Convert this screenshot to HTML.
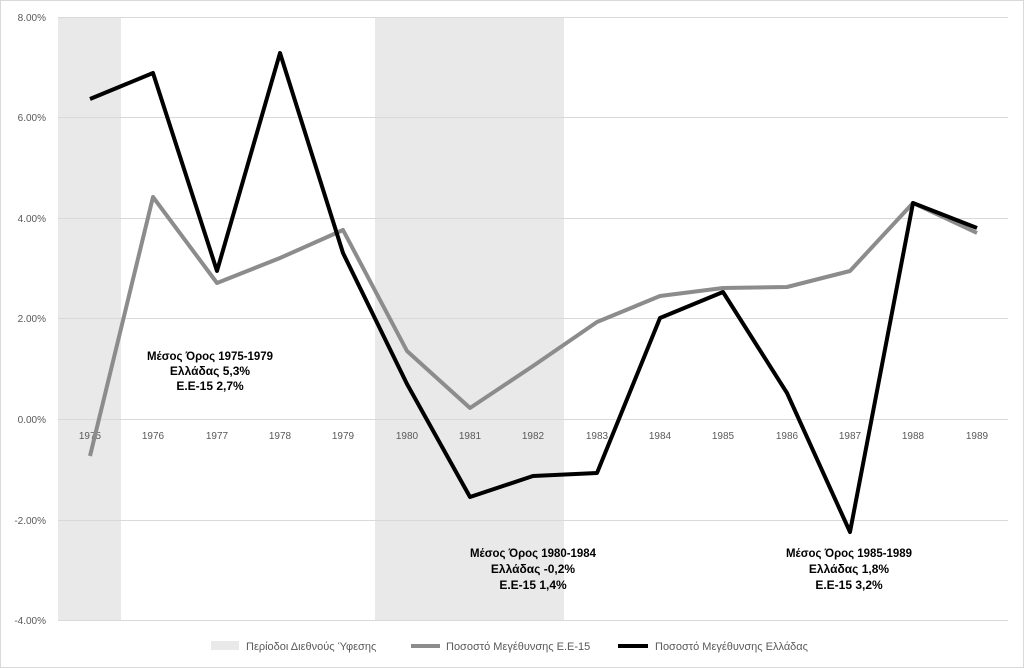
<!DOCTYPE html>
<html><head><meta charset="utf-8"><style>
html,body{margin:0;padding:0;background:#fff;}
svg{display:block;font-family:"Liberation Sans",Arial,sans-serif;}
</style></head><body>
<svg width="1024" height="668" viewBox="0 0 1024 668" xmlns="http://www.w3.org/2000/svg">
<rect x="0.5" y="0.5" width="1023" height="667" fill="#fff" stroke="#d9d9d9"/>
<rect x="58" y="17" width="63" height="603" fill="#e9e9e9"/>
<rect x="375" y="17" width="189" height="603" fill="#e9e9e9"/>
<g stroke="#d9d9d9" stroke-width="1">
<line x1="58" y1="17.5" x2="1008" y2="17.5"/>
<line x1="58" y1="117.5" x2="1008" y2="117.5"/>
<line x1="58" y1="218.5" x2="1008" y2="218.5"/>
<line x1="58" y1="318.5" x2="1008" y2="318.5"/>
<line x1="58" y1="419.5" x2="1008" y2="419.5"/>
<line x1="58" y1="520.5" x2="1008" y2="520.5"/>
<line x1="58" y1="620.5" x2="1008" y2="620.5"/>
</g>
<g font-size="10" fill="#595959" text-anchor="end">
<text x="46" y="21">8.00%</text><text x="46" y="121">6.00%</text><text x="46" y="222">4.00%</text>
<text x="46" y="322">2.00%</text><text x="46" y="423">0.00%</text><text x="46" y="524">-2.00%</text><text x="46" y="624">-4.00%</text>
</g>
<g font-size="10" fill="#595959" text-anchor="middle">
<text x="90" y="439">1975</text><text x="153" y="439">1976</text><text x="217" y="439">1977</text><text x="280" y="439">1978</text><text x="343" y="439">1979</text><text x="407" y="439">1980</text><text x="470" y="439">1981</text><text x="533" y="439">1982</text><text x="597" y="439">1983</text><text x="660" y="439">1984</text><text x="723" y="439">1985</text><text x="787" y="439">1986</text><text x="850" y="439">1987</text><text x="913" y="439">1988</text><text x="977" y="439">1989</text>
</g>
<polyline fill="none" stroke="#8c8c8c" stroke-width="4" stroke-linejoin="round" points="90,456 153,197 217,283 280,258 343,230 407,351 470,408 533,366 597,322 660,296 723,288 787,287 850,271 913,203 977,233"/>
<polyline fill="none" stroke="#000" stroke-width="4" stroke-linejoin="round" points="90,99 153,73 217,271 280,53 343,253 407,384 470,497 533,476 597,473 660,318 723,292 787,393 850,532 913,203 977,228"/>
<g font-size="12" font-weight="bold" fill="#000" text-anchor="middle">
<text x="210" y="360" textLength="126" lengthAdjust="spacingAndGlyphs">Μέσος Όρος 1975-1979</text><text x="210" y="375">Ελλάδας 5,3%</text><text x="210" y="390">Ε.Ε-15 2,7%</text>
<text x="533" y="557" textLength="126" lengthAdjust="spacingAndGlyphs">Μέσος Όρος 1980-1984</text><text x="533" y="573">Ελλάδας -0,2%</text><text x="533" y="589">Ε.Ε-15 1,4%</text>
<text x="849" y="557" textLength="126" lengthAdjust="spacingAndGlyphs">Μέσος Όρος 1985-1989</text><text x="849" y="573">Ελλάδας 1,8%</text><text x="849" y="589">Ε.Ε-15 3,2%</text>
</g>
<rect x="211" y="641" width="28" height="9" fill="#e9e9e9"/>
<text x="246" y="650" font-size="11" fill="#595959">Περίοδοι Διεθνούς Ύφεσης</text>
<line x1="411" y1="646" x2="440" y2="646" stroke="#8c8c8c" stroke-width="4"/>
<text x="446" y="650" font-size="11" fill="#595959">Ποσοστό Μεγέθυνσης Ε.Ε-15</text>
<line x1="618" y1="646" x2="648" y2="646" stroke="#000" stroke-width="4"/>
<text x="655" y="650" font-size="11" fill="#595959">Ποσοστό Μεγέθυνσης Ελλάδας</text>
</svg>
</body></html>
